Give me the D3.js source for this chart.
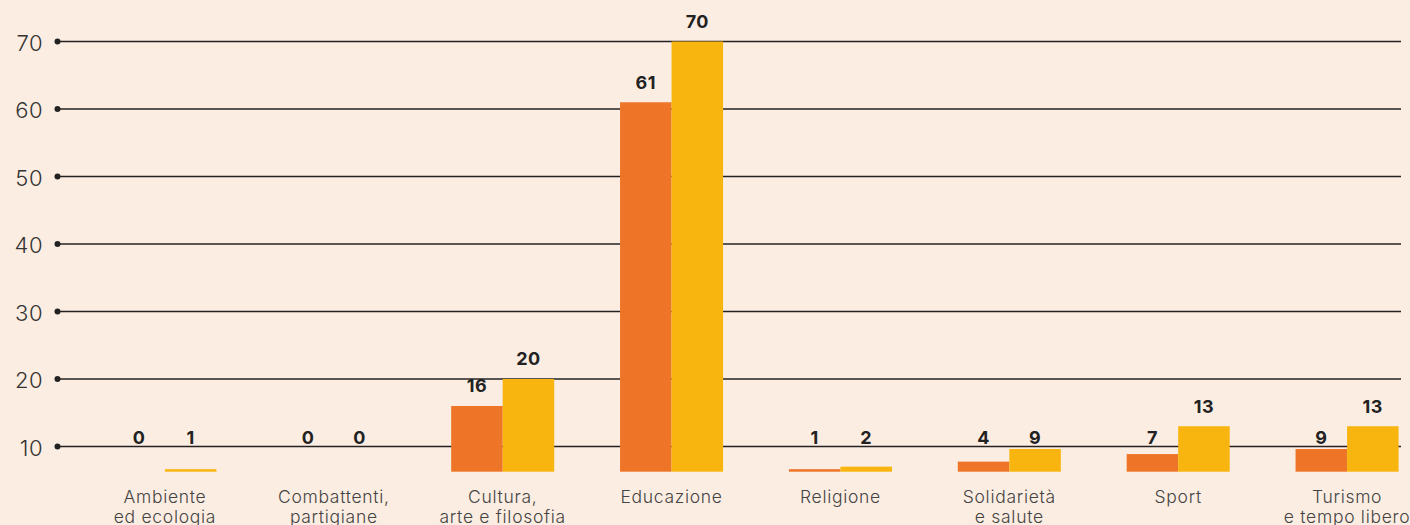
<!DOCTYPE html>
<meta charset="utf-8">
<style>
body {
	margin: 0;
	background: #fcede2;
}
svg {
	display: block;
	font-family: Inter, "Noto Sans", sans-serif;
}
.axis text {
	font-size: 22px;
	font-weight: 300;
	fill: #333;
	letter-spacing: 0.5px;
}
.value {
	font-size: 18px;
	font-weight: 700;
	fill: #222;
	letter-spacing: 0.5px;
}
.cat {
	font-size: 17.5px;
	font-weight: 300;
	fill: #444;
	letter-spacing: 0.7px;
}
</style>
<body>
<svg></svg>
<script src="https://d3js.org/d3.v7.min.js"></script>
<script>

var categories = ["Ambiente\ned ecologia", "Combattenti,\npartigiane", "Cultura,\narte e filosofia", "Educazione", "Religione", "Solidarietà\ne salute", "Sport", "Turismo\ne tempo libero"];
var seriesA = [0, 0, 16, 61, 1, 4, 7, 9];
var seriesB = [1, 0, 20, 70, 2, 9, 13, 13];
var yTicks = [10, 20, 30, 40, 50, 60, 70];

var width = 1410, height = 525;
var colors = ["#ee7528", "#f8b40f"];

var svg = d3.select("svg")
	.attr("width", width)
	.attr("height", height);

var x = d3.scaleBand()
	.domain(d3.range(categories.length))
	.range([80.5, 1431.5])
	.paddingInner(0.39)
	.paddingOuter(0.195);

var xs = d3.scaleBand()
	.domain([0, 1])
	.range([0, x.bandwidth()]);

// baseline sits below the first gridline (10), like a broken axis
var y = d3.scaleLinear()
	.domain([0, 10, 70])
	.range([471.7, 446.5, 41.5]);

// gridlines with dot ends
var grid = svg.append("g").attr("class", "axis");
var tick = grid.selectAll("g")
	.data(yTicks)
	.join("g")
	.attr("transform", function(d) { return "translate(0," + y(d) + ")"; });
tick.append("line")
	.attr("x1", 57)
	.attr("x2", 1401)
	.attr("stroke", "#222")
	.attr("stroke-width", 1.3);
tick.append("circle")
	.attr("cx", 57.5)
	.attr("r", 3)
	.attr("fill", "#222");
tick.append("text")
	.attr("x", 43)
	.attr("y", 3)
	.attr("text-anchor", "end")
	.attr("dominant-baseline", "middle")
	.text(function(d) { return d; });

// bars
var rows = [];
categories.forEach(function(c, i) {
	rows.push({cat: i, s: 0, v: seriesA[i]});
	rows.push({cat: i, s: 1, v: seriesB[i]});
});

svg.append("g").selectAll("rect")
	.data(rows.filter(function(d) { return d.v > 0; }))
	.join("rect")
	.attr("x", function(d) { return x(d.cat) + xs(d.s); })
	.attr("width", xs.bandwidth())
	.attr("y", function(d) { return y(d.v); })
	.attr("height", function(d) { return y(0) - y(d.v); })
	.attr("fill", function(d) { return colors[d.s]; });

svg.append("g").selectAll("text")
	.data(rows)
	.join("text")
	.attr("class", "value")
	.attr("text-anchor", "middle")
	.attr("dominant-baseline", "middle")
	.attr("x", function(d) { return x(d.cat) + xs(d.s) + xs.bandwidth() / 2; })
	.attr("y", function(d) { return d.v < 10 ? y(10) - 7.5 : y(d.v) - 18.5; })
	.text(function(d) { return d.v; });

// category labels, one text per line
var cat = svg.append("g").selectAll("g")
	.data(categories)
	.join("g")
	.attr("transform", function(d, i) { return "translate(" + (x(i) + x.bandwidth() / 2) + ",0)"; });
cat.selectAll("text")
	.data(function(d) { return d.split("\n"); })
	.join("text")
	.attr("class", "cat")
	.attr("text-anchor", "middle")
	.attr("y", function(d, i) { return 503 + i * 19.5; })
	.text(function(d) { return d; });

</script>
</body>
